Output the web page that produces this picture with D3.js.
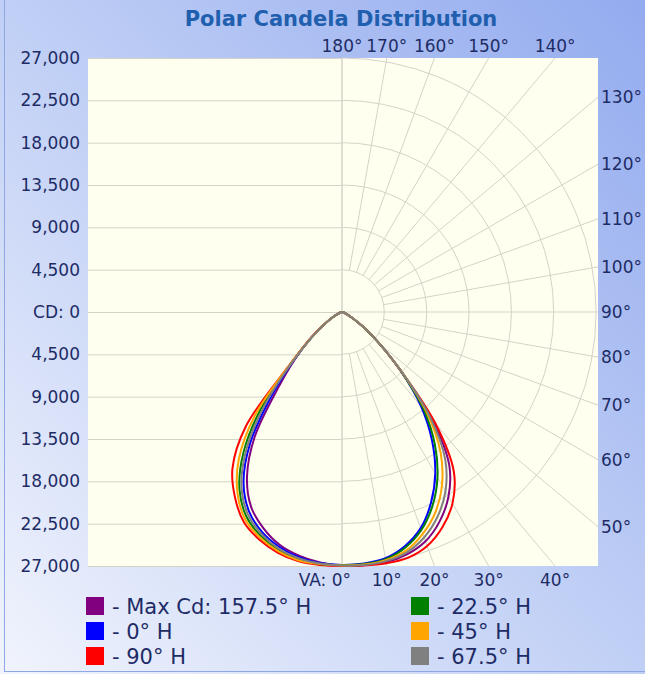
<!DOCTYPE html>
<html><head><meta charset="utf-8">
<script src="https://cdn.jsdelivr.net/npm/d3@7"></script>
<style>html,body{margin:0;padding:0;background:#fff;} svg{display:block;}</style>
</head><body>
<svg id="chart" width="645" height="674"></svg>
<script>
// ---------------- DATA ----------------
const chartTitle = "Polar Candela Distribution";
const verticalAngles = [0,5,10,15,20,25,30,35,40,45,50,55,60,65,70,75,80,85,90];
const seriesNames = ["- Max Cd: 157.5° H","- 0° H","- 90° H","- 22.5° H","- 45° H","- 67.5° H"];
const seriesColors = ["#800080","#0000ff","#ff0000","#008000","#ffa500","#808080"];
// candela, right half (H plane), vertical angle 0..90
const cd157R = [27000,27000,27000,26680,25940,24560,22640,19880,14880,8820,5100,2660,1280,640,320,210,110,50,0];
const cd0R   = [26890,26840,26580,25780,24450,22380,19830,16690,13080,8820,5100,2660,1280,640,320,210,110,50,0];
const cd90R  = [27000,27050,27110,27050,26470,25250,23490,20730,15410,8820,5100,2660,1280,640,320,210,110,50,0];
const cd22R  = [26890,26890,26680,25940,24660,22750,20300,17220,13500,8820,5100,2660,1280,640,320,210,110,50,0];
const cd45R  = [26950,26950,26790,26260,25090,23490,21260,18280,14140,8930,5100,2660,1280,640,320,210,110,50,0];
const cd67R  = [26950,27000,26890,26470,25510,24020,22000,19130,14560,8930,5100,2660,1280,640,320,210,110,50,0];
// candela, left half (H + 180 plane)
const cd157L = [27000,26740,26310,25620,24450,22860,20200,16160,10630,7020,4250,2340,1170,530,320,210,110,50,0];
const cd0L   = [26890,26790,26470,25830,24870,23390,20940,17010,11690,7230,4250,2340,1170,530,320,210,110,50,0];
const cd90L  = [27000,27000,26890,26470,25730,24660,22750,20300,15950,7650,4460,2450,1170,530,320,210,110,50,0];
const cd22L  = [26890,26890,26680,26150,25300,24020,21790,18280,13390,7440,4250,2340,1170,530,320,210,110,50,0];
const cd45L  = [26950,26890,26790,26310,25510,24340,22220,19130,14460,7550,4250,2340,1170,530,320,210,110,50,0];
const cd67L  = [26950,26840,26580,26040,25090,23710,21370,17650,12540,7340,4250,2340,1170,530,320,210,110,50,0];
const cdTicks = [0,4500,9000,13500,18000,22500,27000];
const angleTicks = [0,10,20,30,40,50,60,70,80,90,100,110,120,130,140,150,160,170,180];

// ---------------- LAYOUT ----------------
const W = 645, H = 674;
const plot = {x0: 88, x1: 598, y0: 58, y1: 566};
const cx = 342, cy = 312;
const rMax = 254;
const fontFam = "'DejaVu Sans', Verdana, sans-serif";
const textColor = "#1e2c66";
const gridColor = "#d3d3c9";

const svg = d3.select("#chart");
const defs = svg.append("defs");
const bg = defs.append("linearGradient").attr("id","bg")
  .attr("x1",0).attr("y1",1).attr("x2",1).attr("y2",0);
bg.append("stop").attr("offset",0).attr("stop-color","#f1f4fd");
bg.append("stop").attr("offset",0.5).attr("stop-color","#c0cff5");
bg.append("stop").attr("offset",1).attr("stop-color","#93abef");
svg.append("rect").attr("width",W).attr("height",H).attr("fill","url(#bg)");
// frame lines
svg.append("line").attr("x1",4.5).attr("x2",4.5).attr("y1",0).attr("y2",672)
  .attr("stroke","#8ea6e2").attr("stroke-width",1);
svg.append("line").attr("x1",4).attr("x2",W).attr("y1",671.5).attr("y2",671.5)
  .attr("stroke","#8ea6e2").attr("stroke-width",1);

// plot area
svg.append("rect").attr("x",plot.x0).attr("y",plot.y0)
  .attr("width",plot.x1-plot.x0).attr("height",plot.y1-plot.y0)
  .attr("fill","#fffff0");

// scales
const r = d3.scaleLinear().domain([0,27000]).range([0,rMax]);
const ang = d3.scaleLinear().domain([0,180]).range([0,Math.PI]); // from nadir, toward right
const yUp = d3.scaleLinear().domain([0,27000]).range([cy, cy-rMax]);
const yDown = d3.scaleLinear().domain([0,27000]).range([cy, cy+rMax]);
const fmt = d => d===0 ? "CD: 0" : d3.format(",")(d);

// left axes with horizontal gridlines (left half)
function styleAxis(g){
  g.select(".domain").remove();
  g.selectAll(".tick line").attr("stroke",gridColor).attr("stroke-width",1);
  g.selectAll(".tick text").attr("fill",textColor)
    .style("font-family",fontFam).style("font-size","17px");
}
svg.append("g").attr("transform",`translate(${plot.x0},0)`)
  .call(d3.axisLeft(yUp).tickValues(cdTicks).tickFormat(fmt).tickSize(-(cx-plot.x0)).tickPadding(8))
  .call(styleAxis);
svg.append("g").attr("transform",`translate(${plot.x0},0)`)
  .call(d3.axisLeft(yDown).tickValues(cdTicks.filter(d=>d>0)).tickFormat(fmt).tickSize(-(cx-plot.x0)).tickPadding(8))
  .call(styleAxis);

// right-half polar grid: arcs
const grid = svg.append("g").attr("fill","none").attr("stroke",gridColor).attr("stroke-width",1);
cdTicks.filter(d=>d>0).forEach(v=>{
  const p = d3.path();
  p.arc(cx, cy, r(v), -Math.PI/2, Math.PI/2);
  grid.append("path").attr("d",p.toString());
});
// edge intersection of a ray from the centre
function edgeDist(t){
  const sx = Math.sin(t), sy = Math.cos(t);
  let d = Infinity;
  if (sx > 1e-9) d = Math.min(d, (plot.x1-cx)/sx);
  if (sy > 1e-9) d = Math.min(d, (plot.y1-cy)/sy);
  if (sy < -1e-9) d = Math.min(d, (plot.y0-cy)/sy);
  return d;
}
// radial lines
angleTicks.forEach(a=>{
  const t = ang(a);
  const d = edgeDist(t);
  const r0 = (a===0||a===180||a===90) ? 0 : r(cdTicks[1]);
  grid.append("line")
    .attr("x1",cx+r0*Math.sin(t)).attr("y1",cy+r0*Math.cos(t))
    .attr("x2",cx+d*Math.sin(t)).attr("y2",cy+d*Math.cos(t));
});
// full vertical centre line
grid.append("line").attr("x1",cx).attr("x2",cx).attr("y1",plot.y0).attr("y2",plot.y1);

// angle labels
const lab = svg.append("g").attr("fill",textColor)
  .style("font-family",fontFam).style("font-size","17px");
angleTicks.forEach(a=>{
  const t = ang(a);
  const d = edgeDist(t);
  const ex = cx + d*Math.sin(t), ey = cy + d*Math.cos(t);
  let txt = a + "°";
  if (a === 0) {
    lab.append("text").attr("x",cx+9).attr("y",580).attr("dy","0.35em")
      .attr("text-anchor","end").text("VA: " + txt);
  } else if (Math.abs(ey-plot.y1) < 0.5) {
    lab.append("text").attr("x",ex).attr("y",580).attr("dy","0.35em")
      .attr("text-anchor","middle").text(txt);
  } else if (Math.abs(ey-plot.y0) < 0.5) {
    lab.append("text").attr("x",ex).attr("y",46).attr("dy","0.35em")
      .attr("text-anchor","middle").text(txt);
  } else {
    lab.append("text").attr("x",plot.x1+3).attr("y",ey).attr("dy","0.35em")
      .attr("text-anchor","start").text(txt);
  }
});

// curves
const seriesR = [cd157R, cd0R, cd90R, cd22R, cd45R, cd67R];
const seriesL = [cd157L, cd0L, cd90L, cd22L, cd45L, cd67L];
const line = d3.lineRadial()
  .angle(d=>d.a).radius(d=>r(d.v))
  .curve(d3.curveCatmullRomClosed.alpha(0.5));
function curvePoints(L, R){
  const pts = [];
  verticalAngles.forEach((va,i)=>pts.push({a: Math.PI + ang(va), v: L[i]}));
  for (let i = verticalAngles.length-2; i >= 1; i--)
    pts.push({a: Math.PI - ang(verticalAngles[i]), v: R[i]});
  return pts;
}
const curveG = svg.append("g").attr("transform",`translate(${cx},${cy})`);
const drawOrder = [0,1,2,3,4,5];
drawOrder.forEach(i=>{
  curveG.append("path").attr("d", line(curvePoints(seriesL[i], seriesR[i])))
    .attr("fill","none").attr("stroke",seriesColors[i]).attr("stroke-width",2)
    .attr("stroke-linejoin","round");
});

// title
svg.append("text").attr("x",341).attr("y",26).attr("text-anchor","middle")
  .attr("fill","#1f5fae").style("font-family",fontFam).style("font-weight","bold")
  .style("font-size","21px").text(chartTitle);

// legend
const leg = svg.append("g");
seriesNames.forEach((name,i)=>{
  const col = Math.floor(i/3), row = i%3;
  const x = col===0 ? 86 : 411;
  const y = 606 + row*25;
  leg.append("rect").attr("x",x).attr("y",y-9).attr("width",18).attr("height",18)
    .attr("fill",seriesColors[i]);
  leg.append("text").attr("x",x+26).attr("y",y).attr("dy","0.36em")
    .attr("fill",textColor).style("font-family",fontFam).style("font-size","21px")
    .text(name);
});
</script>
</body></html>
